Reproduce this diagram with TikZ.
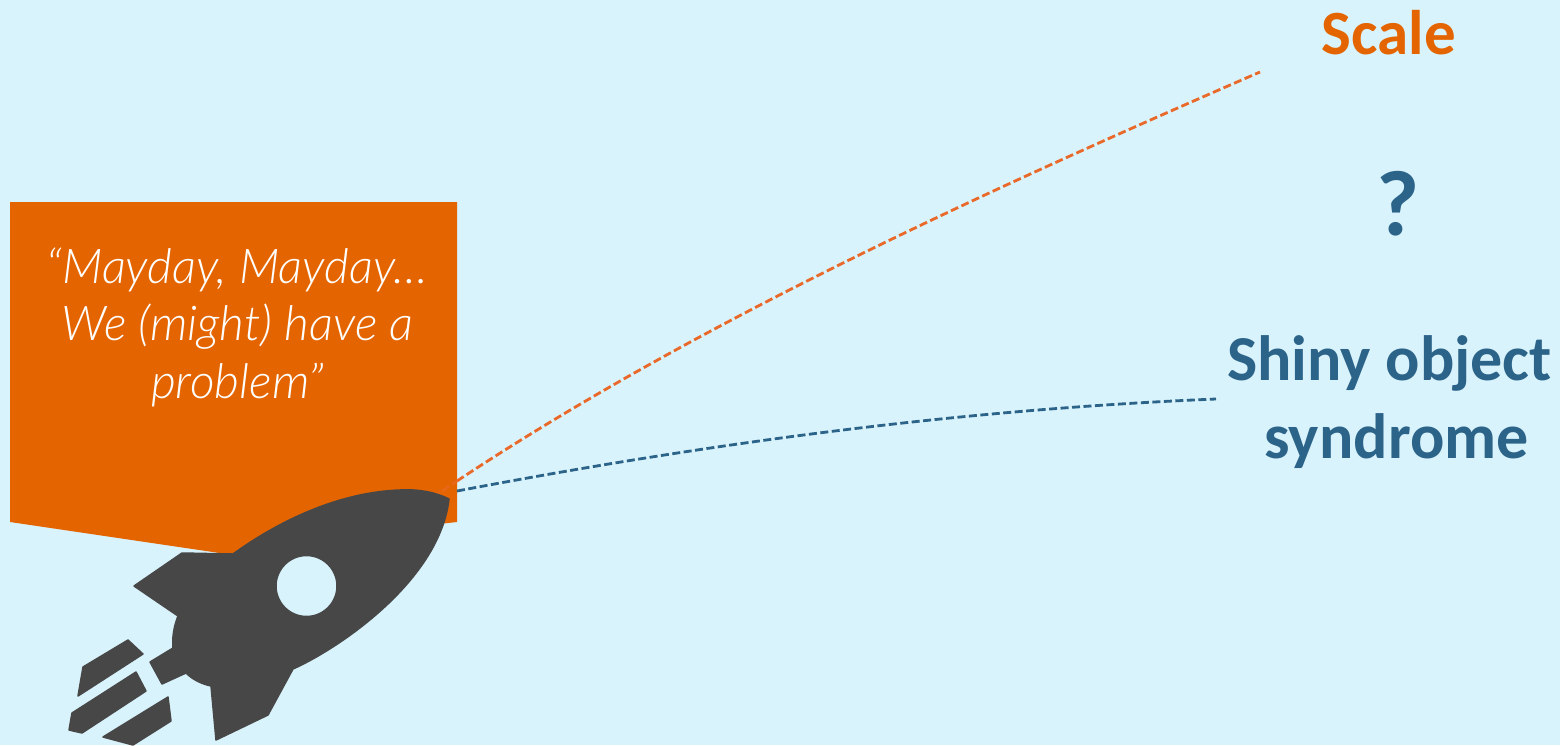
\documentclass[tikz,border=0pt]{standalone}
\usepackage{fontspec}
\setmainfont{Carlito}
\newfontfamily\quotefont{Lato Light Italic}
\definecolor{bgc}{HTML}{D9F3FC}
\definecolor{orangec}{HTML}{E46500}
\definecolor{bluec}{HTML}{2C6489}
\definecolor{rocketc}{HTML}{474747}
\definecolor{dashor}{HTML}{E9692B}
\tikzset{
  label/.style={font=\fontsize{#1}{#1}\selectfont\bfseries, align=center, inner sep=0pt},
  link/.style={line width=2.8pt, dash pattern=on 8pt off 3.5pt},
  rocket/.style={fill=rocketc, draw=rocketc, line width=1.5pt, line join=round},
}
\begin{document}
\begin{tikzpicture}[x=1pt,y=-1pt]
\useasboundingbox (0,0) rectangle (1560,745);
\fill[bgc] (0,0) rectangle (1560,745);
% orange callout
\fill[orangec] (10,202) -- (457,202) -- (457,522) -- (430,525) -- (233,555) -- (10,522) -- cycle;
\node[text=white, font=\fontsize{48}{57.5}\selectfont\quotefont, align=center, inner sep=0pt] (quote) at (237.5,327)
  {“Mayday, Mayday…\\We (might) have a\\problem”};
% labels
\node[label=63, text=orangec] (scale) at (1389,33) {Scale};
\node[label=93, text=bluec] (q) at (1398,204) {?};
\node[label=64, text=bluec] (shiny) at (1389.5,402) {Shiny object\\[14pt]\hspace*{14pt}syndrome};
% connector anchors
\coordinate (nose) at (433,497);
\coordinate (nose2) at (457,491);
\coordinate (scaleend) at (1260,72);
\coordinate (shinyend) at (1216,399);
% connectors
\draw[link, dashor, opacity=.6] (nose) -- (457,481);
\draw[link, dashor] (457,481) .. controls (700,320) and (1000,185) .. (scaleend);
\draw[link, bluec] (nose2) .. controls (700,445) and (950,410) .. (shinyend);
% rocket body
\fill[rocket, even odd rule]
  (449,499) .. controls (435,492) and (418,489) .. (400,490)
  .. controls (340,492) and (280,520) .. (233,554)
  -- (182,553) -- (134,586) -- (178,616)
  .. controls (174,626) and (172,637) .. (173,648)
  -- (150,662) -- (162,684) -- (186,673)
  .. controls (193,680) and (202,684) .. (211,686)
  -- (216,740) -- (268,715) -- (293,669)
  .. controls (340,648) and (440,580) .. (449,499) -- cycle
  (337,586) arc[start angle=0, end angle=360, radius=30.5];
% flames
\fill[rocket] (128,640) -- (143,654) -- (78,696) -- (83,667) -- cycle;
\fill[rocket] (136,672) -- (146,691) -- (82,733) -- (69,730) -- (72,713) -- cycle;
\fill[rocket] (168,697) -- (171,721) -- (133,745) -- (103,737) -- cycle;
\end{tikzpicture}
\end{document}
